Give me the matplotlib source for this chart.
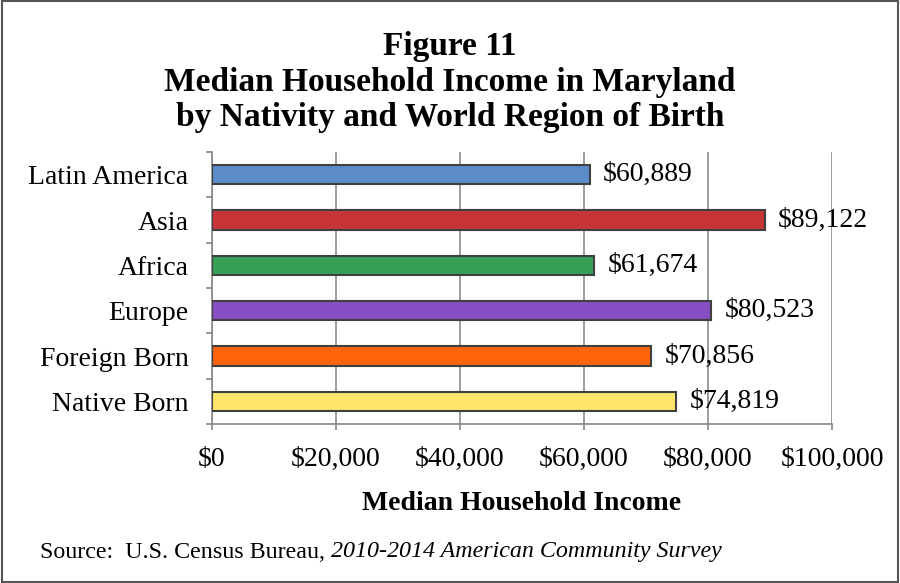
import matplotlib.pyplot as plt
from matplotlib.ticker import FuncFormatter, FixedLocator
from matplotlib.patches import Rectangle

plt.rcParams['font.family'] = ['Liberation Serif', 'DejaVu Serif']

categories = ['Latin America', 'Asia', 'Africa', 'Europe', 'Foreign Born', 'Native Born']
incomes = [60889, 89122, 61674, 80523, 70856, 74819]
colors = ['#5b8cc8', '#c83436', '#36a055', '#874ec4', '#ff6409', '#ffe56a']

fig = plt.figure(figsize=(9, 5.83), dpi=100)
ax = fig.add_axes([212 / 900, 1 - 424 / 583, 620 / 900, 272 / 583])

y = list(range(len(categories)))
ax.barh(y, incomes, height=0.42, color=colors, edgecolor='#404040', linewidth=1.5, zorder=3)
for yi, v in zip(y, incomes):
    ax.text(v + 2200, yi, f'${v:,}', va='center', ha='left', fontsize=20)

ax.set_xlim(0, 100000)
ax.set_ylim(len(categories) - 0.5, -0.5)
ax.set_yticks(y)
ax.set_yticklabels(categories, fontsize=20)
ax.tick_params(axis='y', which='major', length=0, pad=17)
ax.yaxis.set_minor_locator(FixedLocator([i - 0.5 for i in range(len(categories) + 1)]))
ax.tick_params(axis='y', which='minor', length=4.5, color='#888888', width=1.2)

ax.set_xticks(range(0, 100001, 20000))
ax.xaxis.set_major_formatter(FuncFormatter(lambda x, p: f'${int(x):,}'))
ax.tick_params(axis='x', length=4.5, color='#888888', width=1.2, labelsize=20, pad=12)
ax.grid(axis='x', color='#8c8c8c', linewidth=1.2, zorder=0)
for s in ['top', 'right']:
    ax.spines[s].set_visible(False)
for s in ['left', 'bottom']:
    ax.spines[s].set_color('#888888')
    ax.spines[s].set_linewidth(1.2)

ax.set_xlabel('Median Household Income', fontsize=20, fontweight='bold', labelpad=14)

fig.text(0.5, 1 - 82 / 583, 'Figure 11\nMedian Household Income in Maryland\nby Nativity and World Region of Birth',
         ha='center', va='center', fontsize=24, fontweight='bold', linespacing=1.2)

src = fig.text(40 / 900, 1 - 552 / 583, 'Source:  U.S. Census Bureau, ', fontsize=17.3, va='center')
fig.canvas.draw()
bb = src.get_window_extent(renderer=fig.canvas.get_renderer())
fig.text(bb.x1 / (fig.dpi * 9), 1 - 552 / 583, '2010-2014 American Community Survey',
         fontsize=17.3, va='center', style='italic')

fig.patches.append(Rectangle((0.002, 0.002), 0.996, 0.996, transform=fig.transFigure,
                             fill=False, edgecolor='#555555', linewidth=1.5))

fig.savefig('out.png', dpi=100)
